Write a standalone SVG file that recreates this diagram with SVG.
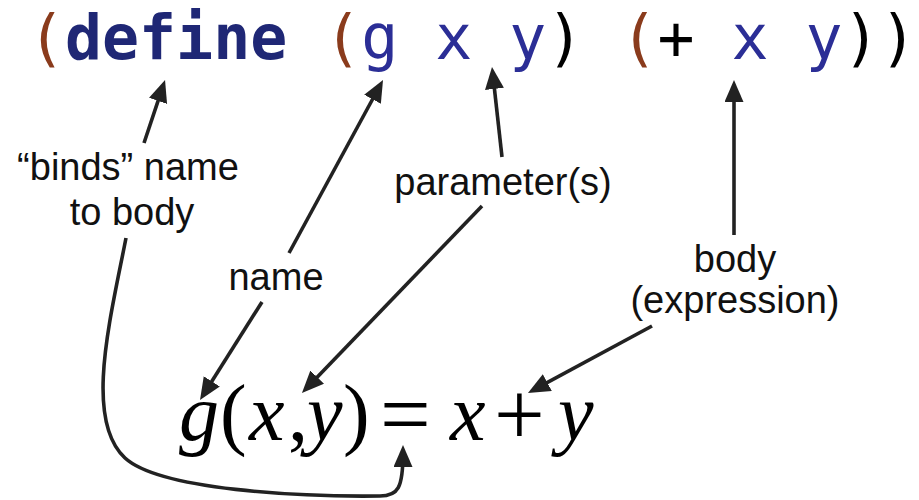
<svg xmlns="http://www.w3.org/2000/svg" width="919" height="500" viewBox="0 0 919 500">
<style>
.code{font-family:"DejaVu Sans Mono","Liberation Mono",monospace;font-size:61.5px}
.p{fill:#8a3b1c}
.k{fill:#1f2775;font-weight:bold}
.v{fill:#2b2e96}
.b{fill:#000}
.lbl{font-family:"Liberation Sans",Arial,Helvetica,sans-serif;font-size:38px;fill:#111;text-anchor:middle}
.math{font-family:"Liberation Serif","Times New Roman",serif;font-size:80px;fill:#000}
.it{font-style:italic}
.op{font-size:90px}
.conn{fill:none;stroke:#222;stroke-width:3.6;marker-end:url(#ah)}
</style>
<defs>
<marker id="ah" markerUnits="userSpaceOnUse" markerWidth="24" markerHeight="20" refX="14" refY="9.5" orient="auto">
<path d="M0,0 L22,9.5 L0,19 z" fill="#222"/>
</marker>
</defs>
<rect width="919" height="500" fill="#fff"/>
<g id="code">
<text class="code" x="28" y="59" xml:space="preserve"><tspan class="p">(</tspan><tspan class="k">define</tspan> <tspan class="p">(</tspan><tspan class="v">g x y</tspan><tspan class="b">)</tspan> <tspan class="p">(</tspan><tspan class="b">+</tspan> <tspan class="v">x y</tspan><tspan class="b">))</tspan></text>
</g>
<g id="label-binds">
<text class="lbl" x="128" y="180">“binds” name</text>
<text class="lbl" x="132" y="225">to body</text>
</g>
<g id="label-name">
<text class="lbl" x="276" y="290">name</text>
</g>
<g id="label-params">
<text class="lbl" x="503" y="195">parameter(s)</text>
</g>
<g id="label-body">
<text class="lbl" x="735" y="272">body</text>
<text class="lbl" x="735" y="313">(expression)</text>
</g>
<g id="math">
<text class="math" y="440"><tspan class="it" x="179">g</tspan><tspan x="220">(</tspan><tspan class="it" x="249">x</tspan><tspan x="288">,</tspan><tspan class="it" x="307">y</tspan><tspan x="343">)</tspan><tspan class="op" x="380" y="445">=</tspan><tspan class="it" x="450" y="440">x</tspan><tspan class="op" x="494" y="445">+</tspan><tspan class="it" x="558" y="440">y</tspan></text>
</g>
<g id="connectors">
<path class="conn" d="M144,143 L162.5,87.6"/>
<path class="conn" d="M289,253 L379.2,87"/>
<path class="conn" d="M502,157 L492.9,75"/>
<path class="conn" d="M734,235 L734,88"/>
<path class="conn" d="M262,302 L204.3,393.2"/>
<path class="conn" d="M482,206 L307.5,387.2"/>
<path class="conn" d="M652,326 L535,389.2"/>
<path class="conn" d="M126,238 C110,320 84,420 125,458 C160,490 300,497 380,496 C398,496 403,488 403,453"/>
</g>
</svg>
